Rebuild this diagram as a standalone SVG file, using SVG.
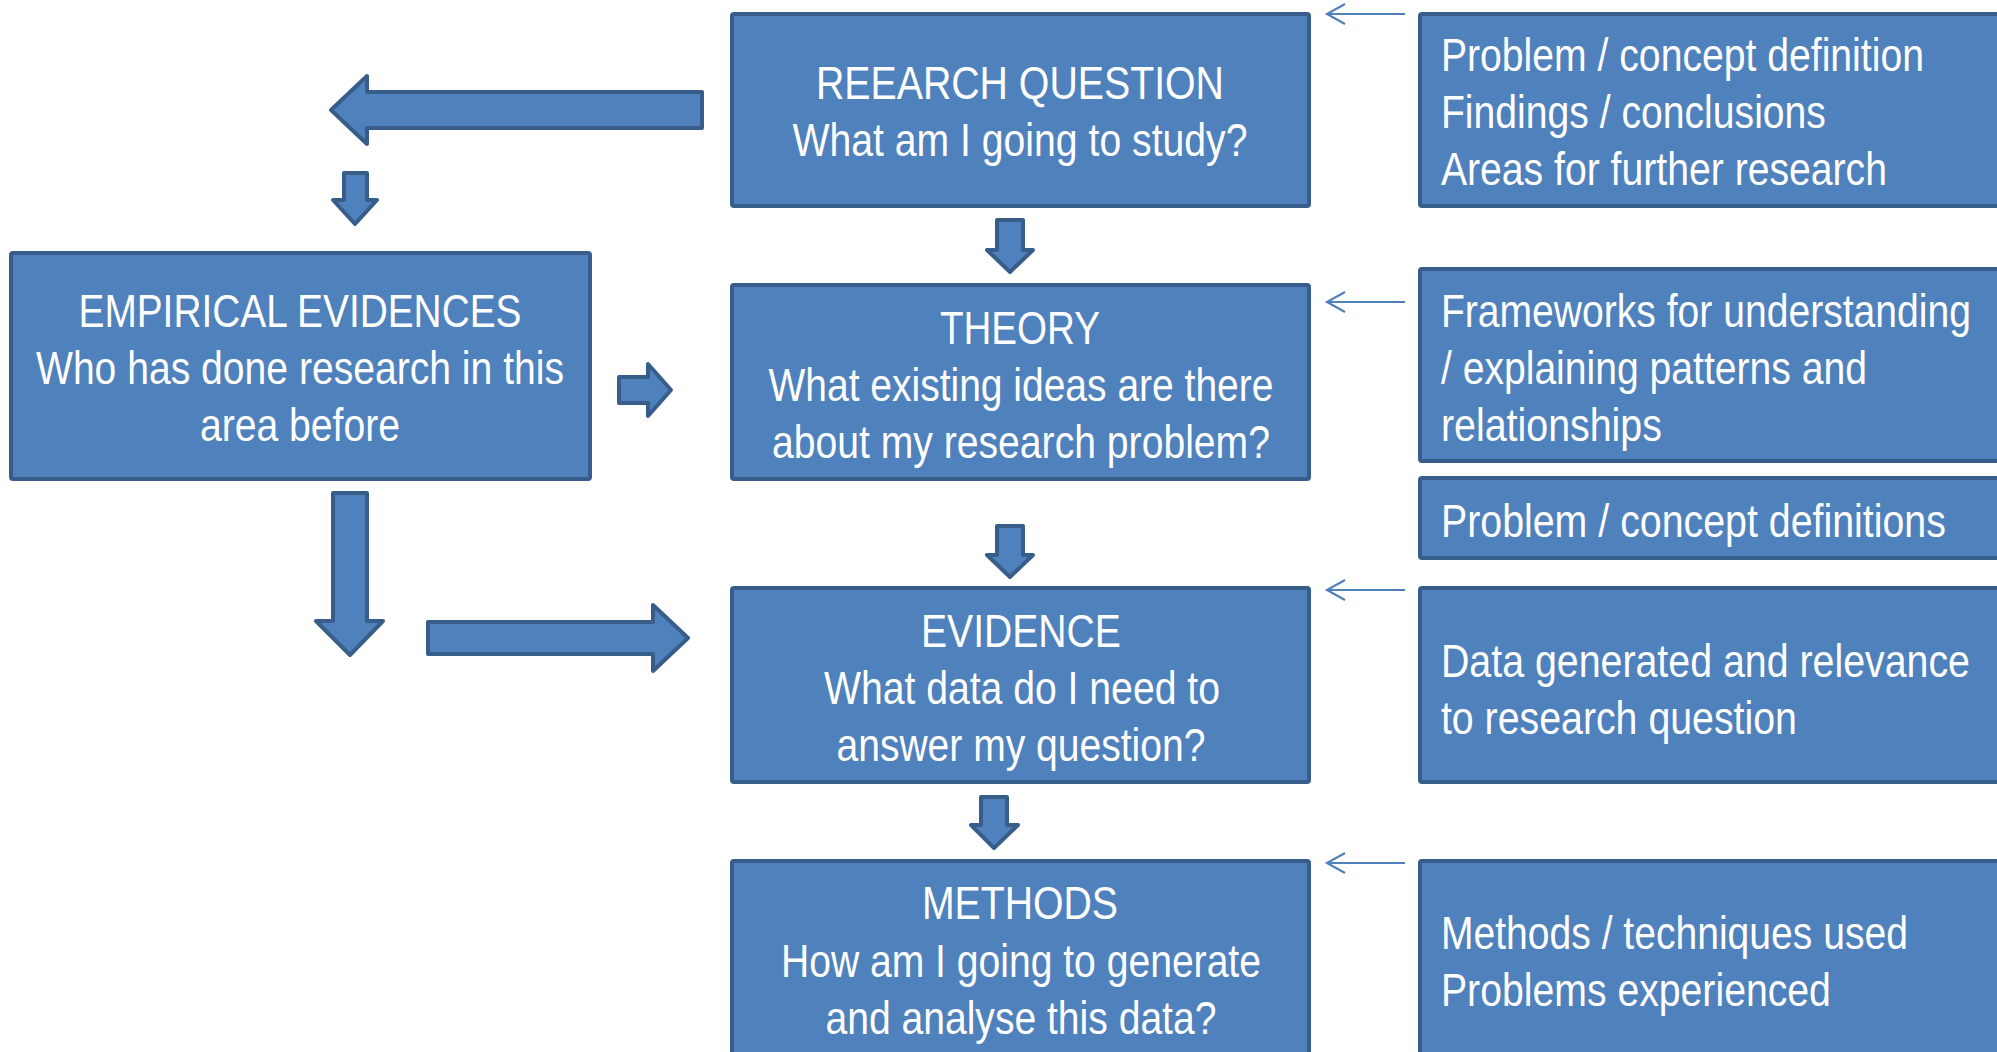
<svg xmlns="http://www.w3.org/2000/svg" width="1997" height="1052" viewBox="0 0 1997 1052">
<style>
.box{fill:#4F81BD;stroke:#385D8A;stroke-width:4;}
.blk{fill:#4F81BD;stroke:#385D8A;stroke-width:4;stroke-linejoin:round;}
.t{fill:#FFFFFF;font-family:"Liberation Sans Narrow","Liberation Sans",Arial,sans-serif;font-size:47px;}
.c{text-anchor:middle;}
.thin{fill:none;stroke:#4F81BD;stroke-width:2.2;}
</style>
<rect width="1997" height="1052" fill="#FFFFFF"/>
<g id="research-question">
<rect class="box" x="732" y="14" width="577" height="192" rx="2"/>
<text class="t c" transform="scale(0.8333 1)" x="1224" y="99" textLength="489.6" lengthAdjust="spacingAndGlyphs">REEARCH QUESTION</text>
<text class="t c" transform="scale(0.8333 1)" x="1224" y="156" textLength="546" lengthAdjust="spacingAndGlyphs">What am I going to study?</text>
</g>
<g id="rq-notes">
<rect class="box" x="1420" y="14" width="584" height="192" rx="2"/>
<text class="t" transform="scale(0.8333 1)" x="1729.2" y="71" textLength="579.6" lengthAdjust="spacingAndGlyphs">Problem / concept definition</text>
<text class="t" transform="scale(0.8333 1)" x="1729.2" y="128" textLength="462" lengthAdjust="spacingAndGlyphs">Findings / conclusions</text>
<text class="t" transform="scale(0.8333 1)" x="1729.2" y="185" textLength="535.2" lengthAdjust="spacingAndGlyphs">Areas for further research</text>
</g>
<g id="empirical-evidences">
<rect class="box" x="11" y="253" width="579" height="226" rx="2"/>
<text class="t c" transform="scale(0.8333 1)" x="360" y="327" textLength="531.6" lengthAdjust="spacingAndGlyphs">EMPIRICAL EVIDENCES</text>
<text class="t c" transform="scale(0.8333 1)" x="360" y="384" textLength="633.6" lengthAdjust="spacingAndGlyphs">Who has done research in this</text>
<text class="t c" transform="scale(0.8333 1)" x="360" y="441" textLength="240" lengthAdjust="spacingAndGlyphs">area before</text>
</g>
<g id="theory">
<rect class="box" x="732" y="285" width="577" height="194" rx="2"/>
<text class="t c" transform="scale(0.8333 1)" x="1224" y="344" textLength="192" lengthAdjust="spacingAndGlyphs">THEORY</text>
<text class="t c" transform="scale(0.8333 1)" x="1225.2" y="401" textLength="606" lengthAdjust="spacingAndGlyphs">What existing ideas are there</text>
<text class="t c" transform="scale(0.8333 1)" x="1225.2" y="458" textLength="597.6" lengthAdjust="spacingAndGlyphs">about my research problem?</text>
</g>
<g id="theory-notes">
<rect class="box" x="1420" y="269" width="584" height="192" rx="2"/>
<text class="t" transform="scale(0.8333 1)" x="1729.2" y="327" textLength="636" lengthAdjust="spacingAndGlyphs">Frameworks for understanding</text>
<text class="t" transform="scale(0.8333 1)" x="1729.2" y="384" textLength="511.2" lengthAdjust="spacingAndGlyphs">/ explaining patterns and</text>
<text class="t" transform="scale(0.8333 1)" x="1729.2" y="441" textLength="265.2" lengthAdjust="spacingAndGlyphs">relationships</text>
</g>
<g id="definitions-note">
<rect class="box" x="1420" y="478" width="584" height="80" rx="2"/>
<text class="t" transform="scale(0.8333 1)" x="1729.2" y="537" textLength="606" lengthAdjust="spacingAndGlyphs">Problem / concept definitions</text>
</g>
<g id="evidence">
<rect class="box" x="732" y="588" width="577" height="194" rx="2"/>
<text class="t c" transform="scale(0.8333 1)" x="1225.2" y="647" textLength="240" lengthAdjust="spacingAndGlyphs">EVIDENCE</text>
<text class="t c" transform="scale(0.8333 1)" x="1226.4" y="704" textLength="475.2" lengthAdjust="spacingAndGlyphs">What data do I need to</text>
<text class="t c" transform="scale(0.8333 1)" x="1225.2" y="761" textLength="442.8" lengthAdjust="spacingAndGlyphs">answer my question?</text>
</g>
<g id="evidence-notes">
<rect class="box" x="1420" y="588" width="584" height="194" rx="2"/>
<text class="t" transform="scale(0.8333 1)" x="1729.2" y="677" textLength="634.8" lengthAdjust="spacingAndGlyphs">Data generated and relevance</text>
<text class="t" transform="scale(0.8333 1)" x="1729.2" y="734" textLength="427.2" lengthAdjust="spacingAndGlyphs">to research question</text>
</g>
<g id="methods">
<rect class="box" x="732" y="861" width="577" height="210" rx="2"/>
<text class="t c" transform="scale(0.8333 1)" x="1224" y="919" textLength="235.2" lengthAdjust="spacingAndGlyphs">METHODS</text>
<text class="t c" transform="scale(0.8333 1)" x="1225.2" y="977" textLength="576" lengthAdjust="spacingAndGlyphs">How am I going to generate</text>
<text class="t c" transform="scale(0.8333 1)" x="1225.2" y="1034" textLength="469.2" lengthAdjust="spacingAndGlyphs">and analyse this data?</text>
</g>
<g id="methods-notes">
<rect class="box" x="1420" y="861" width="584" height="210" rx="2"/>
<text class="t" transform="scale(0.8333 1)" x="1729.2" y="949" textLength="560.4" lengthAdjust="spacingAndGlyphs">Methods / techniques used</text>
<text class="t" transform="scale(0.8333 1)" x="1729.2" y="1006" textLength="468" lengthAdjust="spacingAndGlyphs">Problems experienced</text>
</g>
<g id="connectors">
<polygon class="blk" points="702,92 367,92 367,76 331,110 367,144 367,128 702,128"/>
<polygon class="blk" points="344,173 367,173 367,200 377,200 355,224 333,200 344,200"/>
<polygon class="blk" points="619,377 648,377 648,364 671,390 648,416 648,403 619,403"/>
<polygon class="blk" points="333,493 367,493 367,621 383,621 350,655 316,621 333,621"/>
<polygon class="blk" points="428,622 653,622 653,605 688,638 653,671 653,654 428,654"/>
<polygon class="blk" points="997,220 1023,220 1023,250 1033,250 1010,272 987,250 997,250"/>
<polygon class="blk" points="997,526 1023,526 1023,555 1033,555 1010,577 987,555 997,555"/>
<polygon class="blk" points="981,797 1007,797 1007,825 1018,825 994,848 971,825 981,825"/>
<path class="thin" d="M1405,14 H1327 M1345,4 L1327,14 L1345,24"/>
<path class="thin" d="M1405,302 H1327 M1345,292 L1327,302 L1345,312"/>
<path class="thin" d="M1405,590 H1327 M1345,580 L1327,590 L1345,600"/>
<path class="thin" d="M1405,863 H1327 M1345,853 L1327,863 L1345,873"/>
</g>
</svg>
